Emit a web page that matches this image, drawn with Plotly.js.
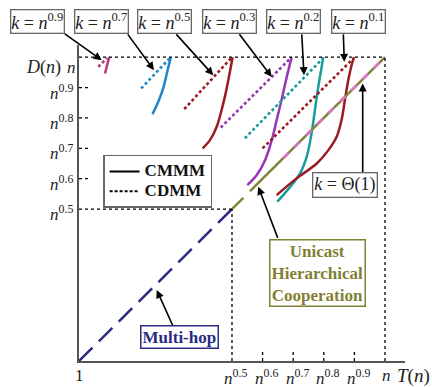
<!DOCTYPE html>
<html><head><meta charset="utf-8">
<script src="https://cdn.plot.ly/plotly-3.0.1.min.js"></script>
<style>html,body{margin:0;padding:0;background:#fff}#chart{width:432px;height:387px}</style>
</head><body><div id="chart"></div>
<script>
// ---- data (exponents of n) ----
const xTickVals = [0, 0.5, 0.6, 0.7, 0.8, 0.9, 1];
const xTickText = ['1','<i>n</i><sup>0.5</sup>','<i>n</i><sup>0.6</sup>','<i>n</i><sup>0.7</sup>','<i>n</i><sup>0.8</sup>','<i>n</i><sup>0.9</sup>','<i>n</i>'];
const yTickVals = [0.5, 0.6, 0.7, 0.8, 0.9, 1];
const yTickText = ['<i>n</i><sup>0.5</sup>','<i>n</i><sup>0.6</sup>','<i>n</i><sup>0.7</sup>','<i>n</i><sup>0.8</sup>','<i>n</i><sup>0.9</sup>','<i>n</i>'];
const minorTicks = [0.6, 0.7, 0.8, 0.9];

const kLabels = ['0.9','0.7','0.5','0.3','0.2','0.1'];
const kColors = ['#b23a7c','#1f86c8','#9a1c22','#9636b4','#1a9c9c','#9a1c22'];

// CMMM (solid) curves
const cmmmX = [
  [0.085, 0.092, 0.099],
  [0.240, 0.259, 0.275, 0.287, 0.300],
  [0.404, 0.428, 0.450, 0.466, 0.479, 0.490, 0.502],
  [0.550, 0.581, 0.608, 0.630, 0.646, 0.662, 0.679, 0.695],
  [0.648, 0.690, 0.722, 0.744, 0.760, 0.771, 0.782, 0.793, 0.798],
  [0.646, 0.711, 0.777, 0.815, 0.842, 0.858, 0.869, 0.880, 0.891, 0.899]
];
const cmmmY = [
  [0.946, 0.974, 1.0],
  [0.812, 0.853, 0.897, 0.946, 1.0],
  [0.700, 0.727, 0.771, 0.826, 0.880, 0.935, 1.0],
  [0.579, 0.612, 0.661, 0.727, 0.793, 0.859, 0.935, 1.0],
  [0.524, 0.573, 0.617, 0.672, 0.749, 0.826, 0.902, 0.968, 1.0],
  [0.546, 0.601, 0.650, 0.694, 0.738, 0.793, 0.859, 0.924, 0.974, 1.0]
];
// CDMM (dotted) lines
const cdmmX = [[0.063,0.092],[0.203,0.297],[0.344,0.499],[0.463,0.690],[0.542,0.796],[0.600,0.896]];
const cdmmY = [[0.968,0.997],[0.897,0.997],[0.829,0.999],[0.768,0.995],[0.733,0.995],[0.700,0.995]];
// k = Theta(1) CDMM
const thetaX = [0.667, 1.0], thetaY = [0.667, 1.0];
// Unicast hierarchical cooperation
const uhcDashX = [0.5, 0.559], uhcDashY = [0.5, 0.559];
const uhcX = [0.559, 1.0], uhcY = [0.559, 1.0];
// Multi-hop
const mhX = [0, 0.5], mhY = [0, 0.5];

const SERIF = 'Liberation Serif, Times New Roman, serif';
const traces = [];
cmmmX.forEach((xs,i)=>traces.push({x:xs,y:cmmmY[i],mode:'lines',line:{color:kColors[i],width:2.5,shape:'spline'},showlegend:false,hoverinfo:'skip'}));
cdmmX.forEach((xs,i)=>traces.push({x:xs,y:cdmmY[i],mode:'lines',line:{color:kColors[i],width:2.6,dash:'3px,2.5px'},showlegend:false,hoverinfo:'skip'}));
traces.push({x:mhX,y:mhY,mode:'lines',line:{color:'#2b2b80',width:2.5,dash:'19px,9px'},showlegend:false});
traces.push({x:uhcDashX,y:uhcDashY,mode:'lines',line:{color:'#80843a',width:2.5,dash:'16px,9px'},showlegend:false});
traces.push({x:uhcX,y:uhcY,mode:'lines',line:{color:'#80843a',width:2.5},showlegend:false});
traces.push({x:thetaX,y:thetaY,mode:'lines',line:{color:'#d873c0',width:2.6,dash:'8px,8px'},showlegend:false});
// legend entries
traces.push({x:[null],y:[null],mode:'lines',name:'<span style="font-size:17px"><b>CMMM</b></span>',line:{color:'#000',width:2}});
traces.push({x:[null],y:[null],mode:'lines',name:'<span style="font-size:17px"><b>CDMM</b></span>',line:{color:'#000',width:2,dash:'3px,2px'}});

const dotLine = {color:'#000',width:1.3,dash:'dot'};
const shapes = [
  {type:'line',xref:'x',yref:'y',x0:0,x1:1,y0:1,y1:1,line:dotLine},
  {type:'line',xref:'x',yref:'y',x0:1,x1:1,y0:0,y1:1,line:dotLine},
  {type:'line',xref:'x',yref:'y',x0:0,x1:0.5,y0:0.5,y1:0.5,line:dotLine},
  {type:'line',xref:'x',yref:'y',x0:0.5,x1:0.5,y0:0,y1:0.5,line:dotLine}
];
minorTicks.forEach(t=>{
  shapes.push({type:'line',xref:'x',yref:'y',x0:t,x1:t,y0:0,y1:0.035,line:dotLine});
  shapes.push({type:'line',xref:'x',yref:'y',x0:0,x1:0.03,y0:t,y1:t,line:dotLine});
});

const A = (o)=>Object.assign({xanchor:'center',yanchor:'middle',showarrow:false},o);
const boxX = [-0.1288, 0.0675, 0.2638, 0.4623, 0.659, 0.857];
const annotations = [];
kLabels.forEach((k,i)=>annotations.push(A({xref:'paper',yref:'paper',x:boxX[i],y:1.075,
  text:'<i>k</i> = <i>n</i><sup>'+k+'</sup>',font:{family:SERIF,size:18,color:'#222'},bordercolor:'#666',borderwidth:1.3,borderpad:0,bgcolor:'#fff'})));
// tick labels
xTickVals.forEach((v,i)=>annotations.push(A({xref:'x',yref:'paper',x:v,y:0,yanchor:'top',yshift:-3,xshift:(i===0?0:(i===xTickVals.length-1?2:4)),
  text:xTickText[i],font:{family:SERIF,size:17,color:'#222'}})));
yTickVals.forEach((v,i)=>annotations.push(A({xref:'paper',yref:'y',x:0,y:v,xanchor:'right',
  xshift:(i===yTickVals.length-1?-1:-4),yshift:(i===yTickVals.length-1?-10:-4),
  text:yTickText[i],font:{family:SERIF,size:17,color:'#222'}})));
// arrows: head (px) , tail (px)
const arrows = [
  [101.7,60,63.3,32.7],[154,70,126.7,32.7],[213.3,75,175,32.7],[271.7,76.7,238.3,32.7],
  [304,75,301.7,32.7],[344.3,61.7,343.3,32.7],[362.7,83.3,362.7,173.3],[258.3,186.7,278.3,239.3],[156.7,290,173.3,326.7]
];
const toX = p=>(p-79)/306, toY = p=>(361-p)/304;
arrows.forEach(a=>annotations.push({xref:'x',yref:'y',x:toX(a[0]),y:toY(a[1]),ax:a[2]-a[0],ay:a[3]-a[1],text:'',
  showarrow:true,arrowhead:2,arrowsize:1,arrowwidth:1.6,arrowcolor:'#000',standoff:0,startstandoff:0}));
annotations.push(A({xref:'paper',yref:'paper',x:0.733,y:0.2775,text:'<b>Unicast<br>Hierarchical<br>Cooperation</b>',
  font:{family:SERIF,size:17,color:'#7f8033'},bordercolor:'#7f8033',borderwidth:1.5,borderpad:1,bgcolor:'#fff'}));
annotations.push(A({xref:'paper',yref:'paper',x:0.308,y:0.0744,text:'<b>Multi-hop</b>',
  font:{family:SERIF,size:17,color:'#2b2b7f'},bordercolor:'#2b2b7f',borderwidth:1.5,borderpad:1,bgcolor:'#fff'}));
annotations.push(A({xref:'paper',yref:'paper',x:0.816,y:0.557,text:'<i>k</i> = Θ(1)',
  font:{family:SERIF,size:18,color:'#222'},bordercolor:'#666',borderwidth:1.3,borderpad:1,bgcolor:'#fff'}));
annotations.push(A({xref:'paper',yref:'paper',x:-0.110,y:0.930,text:'<i>D</i>(<i>n</i>)',font:{family:SERIF,size:18,color:'#222'}}));
annotations.push(A({xref:'paper',yref:'paper',x:1.026,y:-0.047,text:'<i>T</i>(<i>n</i>)',font:{family:SERIF,size:19,color:'#222'}}));

const layout = {
  width:432,height:387,margin:{l:79,r:27,t:45,b:26},
  paper_bgcolor:'#fff',plot_bgcolor:'#fff',
  xaxis:{range:[0,1.0654],showgrid:false,zeroline:false,showline:true,linecolor:'#555',linewidth:2,showticklabels:false,ticks:''},
  yaxis:{range:[0,1.04],showgrid:false,zeroline:false,showline:true,linecolor:'#555',linewidth:2,showticklabels:false,ticks:''},
  showlegend:true,
  legend:{x:0.074,y:0.652,xanchor:'left',yanchor:'top',bordercolor:'#666',borderwidth:1.5,bgcolor:'#fff',
    font:{family:SERIF,size:13,color:'#111'},itemwidth:30,tracegroupgap:0},
  shapes:shapes,annotations:annotations
};
Plotly.newPlot('chart',traces,layout,{staticPlot:true,displayModeBar:false});
</script></body></html>
